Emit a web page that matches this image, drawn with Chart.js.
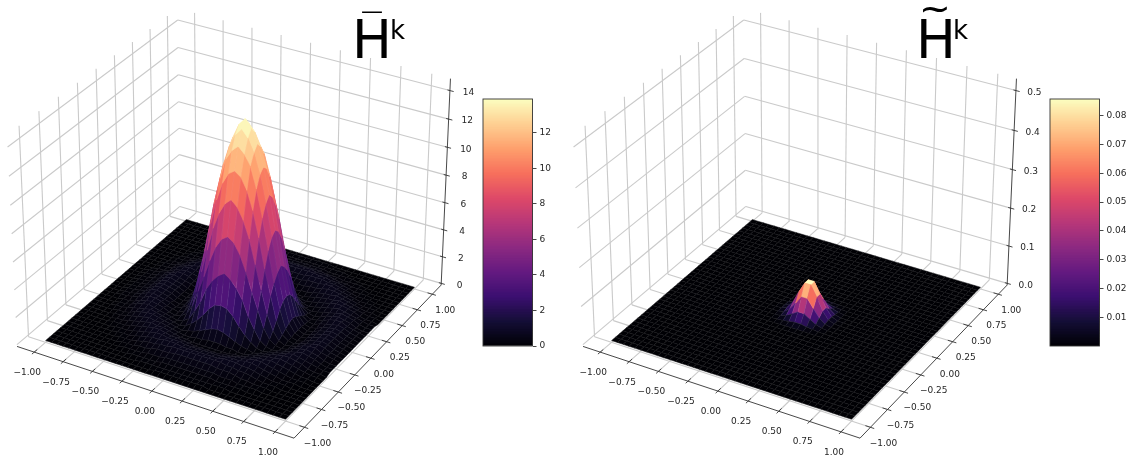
<!DOCTYPE html>
<html>
<head>
<meta charset="utf-8">
<script src="https://cdn.jsdelivr.net/npm/chart.js@4"></script>
<style>
html,body{margin:0;padding:0;background:#fff;width:1131px;height:461px;overflow:hidden}
canvas{position:absolute;filter:blur(.35px)}
</style>
</head>
<body>
<canvas id="barPanel" width="566" height="461" style="left:0;top:0"></canvas>
<canvas id="tildePanel" width="565" height="461" style="left:566px;top:0"></canvas>
<canvas id="barScale" width="90" height="270" style="left:476px;top:90px"></canvas>
<canvas id="tildeScale" width="90" height="270" style="left:1042.5px;top:90px"></canvas>
<script>
// ---- values ----
const xyTicks = [-1, -0.75, -0.5, -0.25, 0, 0.25, 0.5, 0.75, 1];
const xyTickLabels = ['\u22121.00', '\u22120.75', '\u22120.50', '\u22120.25', '0.00', '0.25', '0.50', '0.75', '1.00'];
const barZTicks = [0, 2, 4, 6, 8, 10, 12, 14];
const barZLabels = ['0', '2', '4', '6', '8', '10', '12', '14'];
const tildeZTicks = [0, 0.1, 0.2, 0.3, 0.4, 0.5];
const tildeZLabels = ['0.0', '0.1', '0.2', '0.3', '0.4', '0.5'];
const barColorTicks = [0, 2, 4, 6, 8, 10, 12];
const barColorLabels = ['0', '2', '4', '6', '8', '10', '12'];
const tildeColorTicks = [0.01, 0.02, 0.03, 0.04, 0.05, 0.06, 0.07, 0.08];
const tildeColorLabels = ['0.01', '0.02', '0.03', '0.04', '0.05', '0.06', '0.07', '0.08'];
const barMax = 13.9;
const tildeMax = 0.0858;
// one quadrant of H-bar around its peak: rows = |y step|, columns = |x step|
const barQuadrant = [
[14.2,13.7,12.7,11.2,9.4,7.0,4.6,2.5,1.0,.3,.1,.2,.4,.5,.6,.5,.3,.2,.1,.1,0,0,0],
[13.7,13.2,12.3,10.9,9.0,6.7,4.3,2.4,.9,.3,.1,.2,.4,.5,.6,.5,.3,.2,.1,.1,0,0,0],
[12.7,12.3,11.6,10.1,8.2,6.0,3.8,2.0,.7,.2,.1,.2,.4,.5,.6,.5,.3,.2,.1,.1,0,0,0],
[11.2,10.9,10.1,8.8,7.0,4.9,3.1,1.4,.5,.2,.1,.3,.4,.5,.6,.5,.3,.2,.1,.1,0,0,0],
[9.4,9.0,8.2,7.0,5.3,3.6,2.0,.9,.3,.1,.2,.3,.5,.6,.6,.4,.3,.2,.1,.1,0,0,0],
[7.0,6.7,6.0,4.9,3.6,2.4,1.2,.5,.2,.1,.2,.4,.5,.6,.5,.4,.2,.1,.1,0,0,0,0],
[4.6,4.3,3.8,3.1,2.0,1.2,.5,.2,.1,.2,.3,.4,.5,.6,.5,.4,.2,.1,.1,0,0,0,0],
[2.5,2.4,2.0,1.4,.9,.5,.2,.1,.2,.3,.4,.5,.6,.5,.4,.3,.2,.1,.1,0,0,0,0],
[1.0,.9,.7,.5,.3,.2,.1,.2,.3,.4,.5,.6,.6,.5,.4,.2,.1,.1,0,0,0,0,0],
[.3,.3,.2,.2,.1,.1,.2,.3,.4,.5,.5,.6,.5,.4,.3,.2,.1,.1,0,0,0,0,0],
[.1,.1,.1,.1,.2,.2,.3,.4,.5,.5,.6,.5,.4,.3,.2,.1,.1,0,0,0,0,0,0],
[.2,.2,.2,.3,.3,.4,.4,.5,.6,.6,.5,.4,.3,.2,.1,.1,.1,0,0,0,0,0,0],
[.4,.4,.4,.4,.5,.5,.5,.6,.6,.5,.4,.3,.2,.1,.1,.1,0,0,0,0,0,0,0],
[.5,.5,.5,.5,.6,.6,.6,.5,.5,.4,.3,.2,.1,.1,.1,0,0,0,0,0,0,0,0],
[.6,.6,.6,.6,.6,.5,.5,.4,.4,.3,.2,.1,.1,.1,0,0,0,0,0,0,0,0,0],
[.5,.5,.5,.5,.4,.4,.4,.3,.2,.2,.1,.1,.1,0,0,0,0,0,0,0,0,0,0],
[.3,.3,.3,.3,.3,.2,.2,.2,.1,.1,.1,.1,0,0,0,0,0,0,0,0,0,0,0],
[.2,.2,.2,.2,.2,.1,.1,.1,.1,.1,0,0,0,0,0,0,0,0,0,0,0,0,0],
[.1,.1,.1,.1,.1,.1,.1,.1,0,0,0,0,0,0,0,0,0,0,0,0,0,0,0],
[.1,.1,.1,.1,.1,0,0,0,0,0,0,0,0,0,0,0,0,0,0,0,0,0,0],
[0,0,0,0,0,0,0,0,0,0,0,0,0,0,0,0,0,0,0,0,0,0,0]
];
// one quadrant of H-tilde around the cell that holds its peak
const tildeQuadrant = [
[.0858,.058,.026,.007,.001],
[.058,.036,.016,.004,.0005],
[.026,.016,.007,.002,0],
[.007,.004,.002,.0005,0],
[.001,.0005,0,0,0]
];
const gridValues = [];
for (let n = 0; n <= 40; n++) gridValues.push(-1 + n * 0.05);

// ---- view and style ----
const magma = [[0,0,4],[20,14,54],[59,15,112],[100,26,128],[140,41,129],[183,55,121],[222,73,104],[247,112,92],[254,159,109],[254,207,146],[252,253,191]];
function cmap(t) {
  t = Math.max(0, Math.min(1, t)) * 10;
  const i = Math.min(9, Math.floor(t)), f = t - i, a = magma[i], b = magma[i + 1];
  return [0, 1, 2].map(k => a[k] + (b[k] - a[k]) * f);
}
const rgb = c => `rgb(${c.map(v => Math.round(v)).join(',')})`;
const EDGE = 1.15, BOX_XY = 0.5953, BOX_Z = 0.4464, DIST = 10;
const el = 30 * Math.PI / 180, az = -60 * Math.PI / 180;
const W = [Math.cos(el) * Math.cos(az), Math.cos(el) * Math.sin(az), Math.sin(el)];
const U = [-Math.sin(az), Math.cos(az), 0];
const V = [W[1] * U[2] - W[2] * U[1], W[2] * U[0] - W[0] * U[2], W[0] * U[1] - W[1] * U[0]];
const dot = (a, b) => a[0] * b[0] + a[1] * b[1] + a[2] * b[2];
const SX = 2665, SY = 2702, AX = 233, AY = 213, H = 461;
const GRID = 'rgb(202,202,202)', AXIS = '#333';
const FONT = '9px "DejaVu Sans"';

function makePanel(id, width, zTicks, zLabels, vMax, heightAt, title) {
  const top = zTicks[zTicks.length - 1];
  const zLo = -0.0092 * top, zHi = 1.0593 * top;
  const proj = (x, y, z) => {
    const d = [x / EDGE * BOX_XY, y / EDGE * BOX_XY, ((z - zLo) / (zHi - zLo) * 2 - 1) * BOX_Z];
    const den = DIST - dot(W, d);
    return { x: dot(U, d) / den, y: dot(V, d) / den, depth: dot(W, d) };
  };
  const facets = [];
  for (let j = 0; j < 40; j++) for (let i = 0; i < 40; i++) {
    const c = [[i, j], [i + 1, j], [i + 1, j + 1], [i, j + 1]];
    const zs = c.map(p => heightAt(p[0], p[1]));
    const pts = c.map((p, k) => proj(gridValues[p[0]], gridValues[p[1]], zs[k]));
    const avg = (zs[0] + zs[1] + zs[2] + zs[3]) / 4;
    const col = cmap(avg / vMax);
    const depth = pts.reduce((s, p) => s + p.depth, 0) / 4;
    facets.push({ depth, fillCol: rgb(col), edge: rgb(col.map(v => v + (255 - v) * 0.07)),
      data: [...pts, pts[0]].map(p => ({ x: p.x, y: p.y })) });
  }
  facets.sort((a, b) => b.depth - a.depth);
  const surface = facets.map(f => ({ data: f.data, showLine: true, fill: 'shape', backgroundColor: f.fillCol,
    borderColor: f.edge, borderWidth: 0.5, pointRadius: 0, tension: 0 }));
  const seg = (a, b, color, w) => ({ data: [proj(...a), proj(...b)].map(p => ({ x: p.x, y: p.y })), showLine: true, fill: false,
    borderColor: color, borderWidth: w, pointRadius: 0, tension: 0 });
  const frame = [], grid = [];
  frame.push(seg([-EDGE, -EDGE, zLo], [EDGE, -EDGE, zLo], AXIS, 0.9));
  frame.push(seg([EDGE, -EDGE, zLo], [EDGE, EDGE, zLo], AXIS, 0.9));
  frame.push(seg([EDGE, EDGE, zLo], [EDGE, EDGE, zHi], AXIS, 0.9));
  xyTicks.forEach(t => {
    frame.push(seg([t, -EDGE - 0.03, zLo], [t, -EDGE + 0.04, zLo], AXIS, 0.9));
    frame.push(seg([EDGE - 0.04, t, zLo], [EDGE + 0.03, t, zLo], AXIS, 0.9));
    grid.push(seg([t, -EDGE, zLo], [t, EDGE, zLo], GRID, 1.1));
    grid.push(seg([-EDGE, t, zLo], [EDGE, t, zLo], GRID, 1.1));
    grid.push(seg([-EDGE, t, zLo], [-EDGE, t, zHi], GRID, 1.1));
    grid.push(seg([t, EDGE, zLo], [t, EDGE, zHi], GRID, 1.1));
  });
  zTicks.forEach(t => {
    frame.push(seg([EDGE - 0.02, EDGE, t], [EDGE + 0.03, EDGE, t], AXIS, 0.9));
    grid.push(seg([-EDGE, -EDGE, t], [-EDGE, EDGE, t], GRID, 1.1));
    grid.push(seg([-EDGE, EDGE, t], [EDGE, EDGE, t], GRID, 1.1));
  });
  const labels = {
    id: 'labels',
    afterDatasetsDraw(chart) {
      const ctx = chart.ctx, sx = chart.scales.x, sy = chart.scales.y;
      const put = (p, dx, dy, text) => ctx.fillText(text, sx.getPixelForValue(p.x) + dx, sy.getPixelForValue(p.y) + dy);
      ctx.save();
      ctx.fillStyle = '#262626'; ctx.font = FONT; ctx.textAlign = 'center'; ctx.textBaseline = 'middle';
      xyTicks.forEach((t, n) => {
        put(proj(t, -EDGE, zLo), -7, 20.5, xyTickLabels[n]);
        put(proj(EDGE, t, zLo), 13, 16, xyTickLabels[n]);
      });
      zTicks.forEach((t, n) => put(proj(EDGE, EDGE, t), 18.5, 2, zLabels[n]));
      ctx.fillStyle = '#000'; ctx.textAlign = 'left'; ctx.textBaseline = 'alphabetic';
      ctx.font = '53px "DejaVu Sans"'; ctx.fillText(title.letter, title.letterX, 58);
      ctx.font = title.accentFont; ctx.fillText(title.accent, title.accentX, title.accentY);
      ctx.font = '26px "DejaVu Sans"'; ctx.fillText('k', title.powerX, 39);
      ctx.restore();
    }
  };
  new Chart(document.getElementById(id), {
    type: 'scatter',
    data: { datasets: [...surface, ...frame, ...grid] },
    plugins: [labels],
    options: {
      responsive: false, animation: false, events: [],
      layout: { padding: 0, autoPadding: false },
      plugins: { legend: { display: false }, tooltip: { enabled: false } },
      scales: {
        x: { display: false, min: -AX / SX, max: (width - AX) / SX },
        y: { display: false, min: -(H - AY) / SY, max: AY / SY }
      }
    }
  });
}

function makeScale(id, vMax, tickValues, tickLabels) {
  const levels = [];
  for (let n = 0; n < 160; n++) levels.push(n / 160);
  const datasets = levels.map(l => ({
    data: [[l * vMax, Math.min(1, l + 2 / 160) * vMax]],
    backgroundColor: rgb(cmap(l + 0.5 / 160)), borderWidth: 0, grouped: false,
    barPercentage: 1, categoryPercentage: 1, order: -l
  }));
  const outline = { id: 'outline', afterDraw(chart) {
    const a = chart.chartArea, c = chart.ctx;
    c.save(); c.strokeStyle = '#333'; c.lineWidth = 0.9;
    c.strokeRect(a.left, a.top, a.right - a.left, a.bottom - a.top); c.restore();
  } };
  new Chart(document.getElementById(id), {
    type: 'bar',
    data: { labels: ['value'], datasets },
    plugins: [outline],
    options: {
      responsive: false, animation: false, events: [],
      layout: { autoPadding: false, padding: { left: 7, right: 0, top: 9, bottom: 14 } },
      plugins: { legend: { display: false }, tooltip: { enabled: false } },
      scales: {
        x: { display: false },
        y: {
          position: 'right', min: 0, max: vMax,
          afterFit(ax) { ax.width = 33.5; },
          afterBuildTicks(ax) { ax.ticks = tickValues.map(v => ({ value: v })); },
          border: { display: false },
          grid: { drawOnChartArea: false, drawTicks: true, tickLength: 4, tickColor: '#333', tickWidth: 0.9 },
          ticks: { autoSkip: false, maxRotation: 0, padding: 3, color: '#262626', font: { family: 'DejaVu Sans', size: 9 },
            callback: v => tickLabels[tickValues.indexOf(v)] }
        }
      }
    }
  });
}

makePanel('barPanel', 566, barZTicks, barZLabels, barMax,
  (i, j) => barQuadrant[Math.abs(j - 20)][Math.abs(i - 22)],
  { letter: 'H', letterX: 352, accent: '\u2014', accentFont: '22px "DejaVu Sans"', accentX: 361, accentY: 18, powerX: 390 });
makePanel('tildePanel', 565, tildeZTicks, tildeZLabels, tildeMax,
  (i, j) => {
    const a = Math.abs(i - 21.5) - 0.5, b = Math.abs(j - 20.5) - 0.5;
    return (tildeQuadrant[b] && tildeQuadrant[b][a]) || 0;
  },
  { letter: 'H', letterX: 350, accent: '~', accentFont: '38px "DejaVu Sans"', accentX: 353, accentY: 21, powerX: 387 });
makeScale('barScale', barMax, barColorTicks, barColorLabels);
makeScale('tildeScale', tildeMax, tildeColorTicks, tildeColorLabels);
</script>
</body>
</html>
